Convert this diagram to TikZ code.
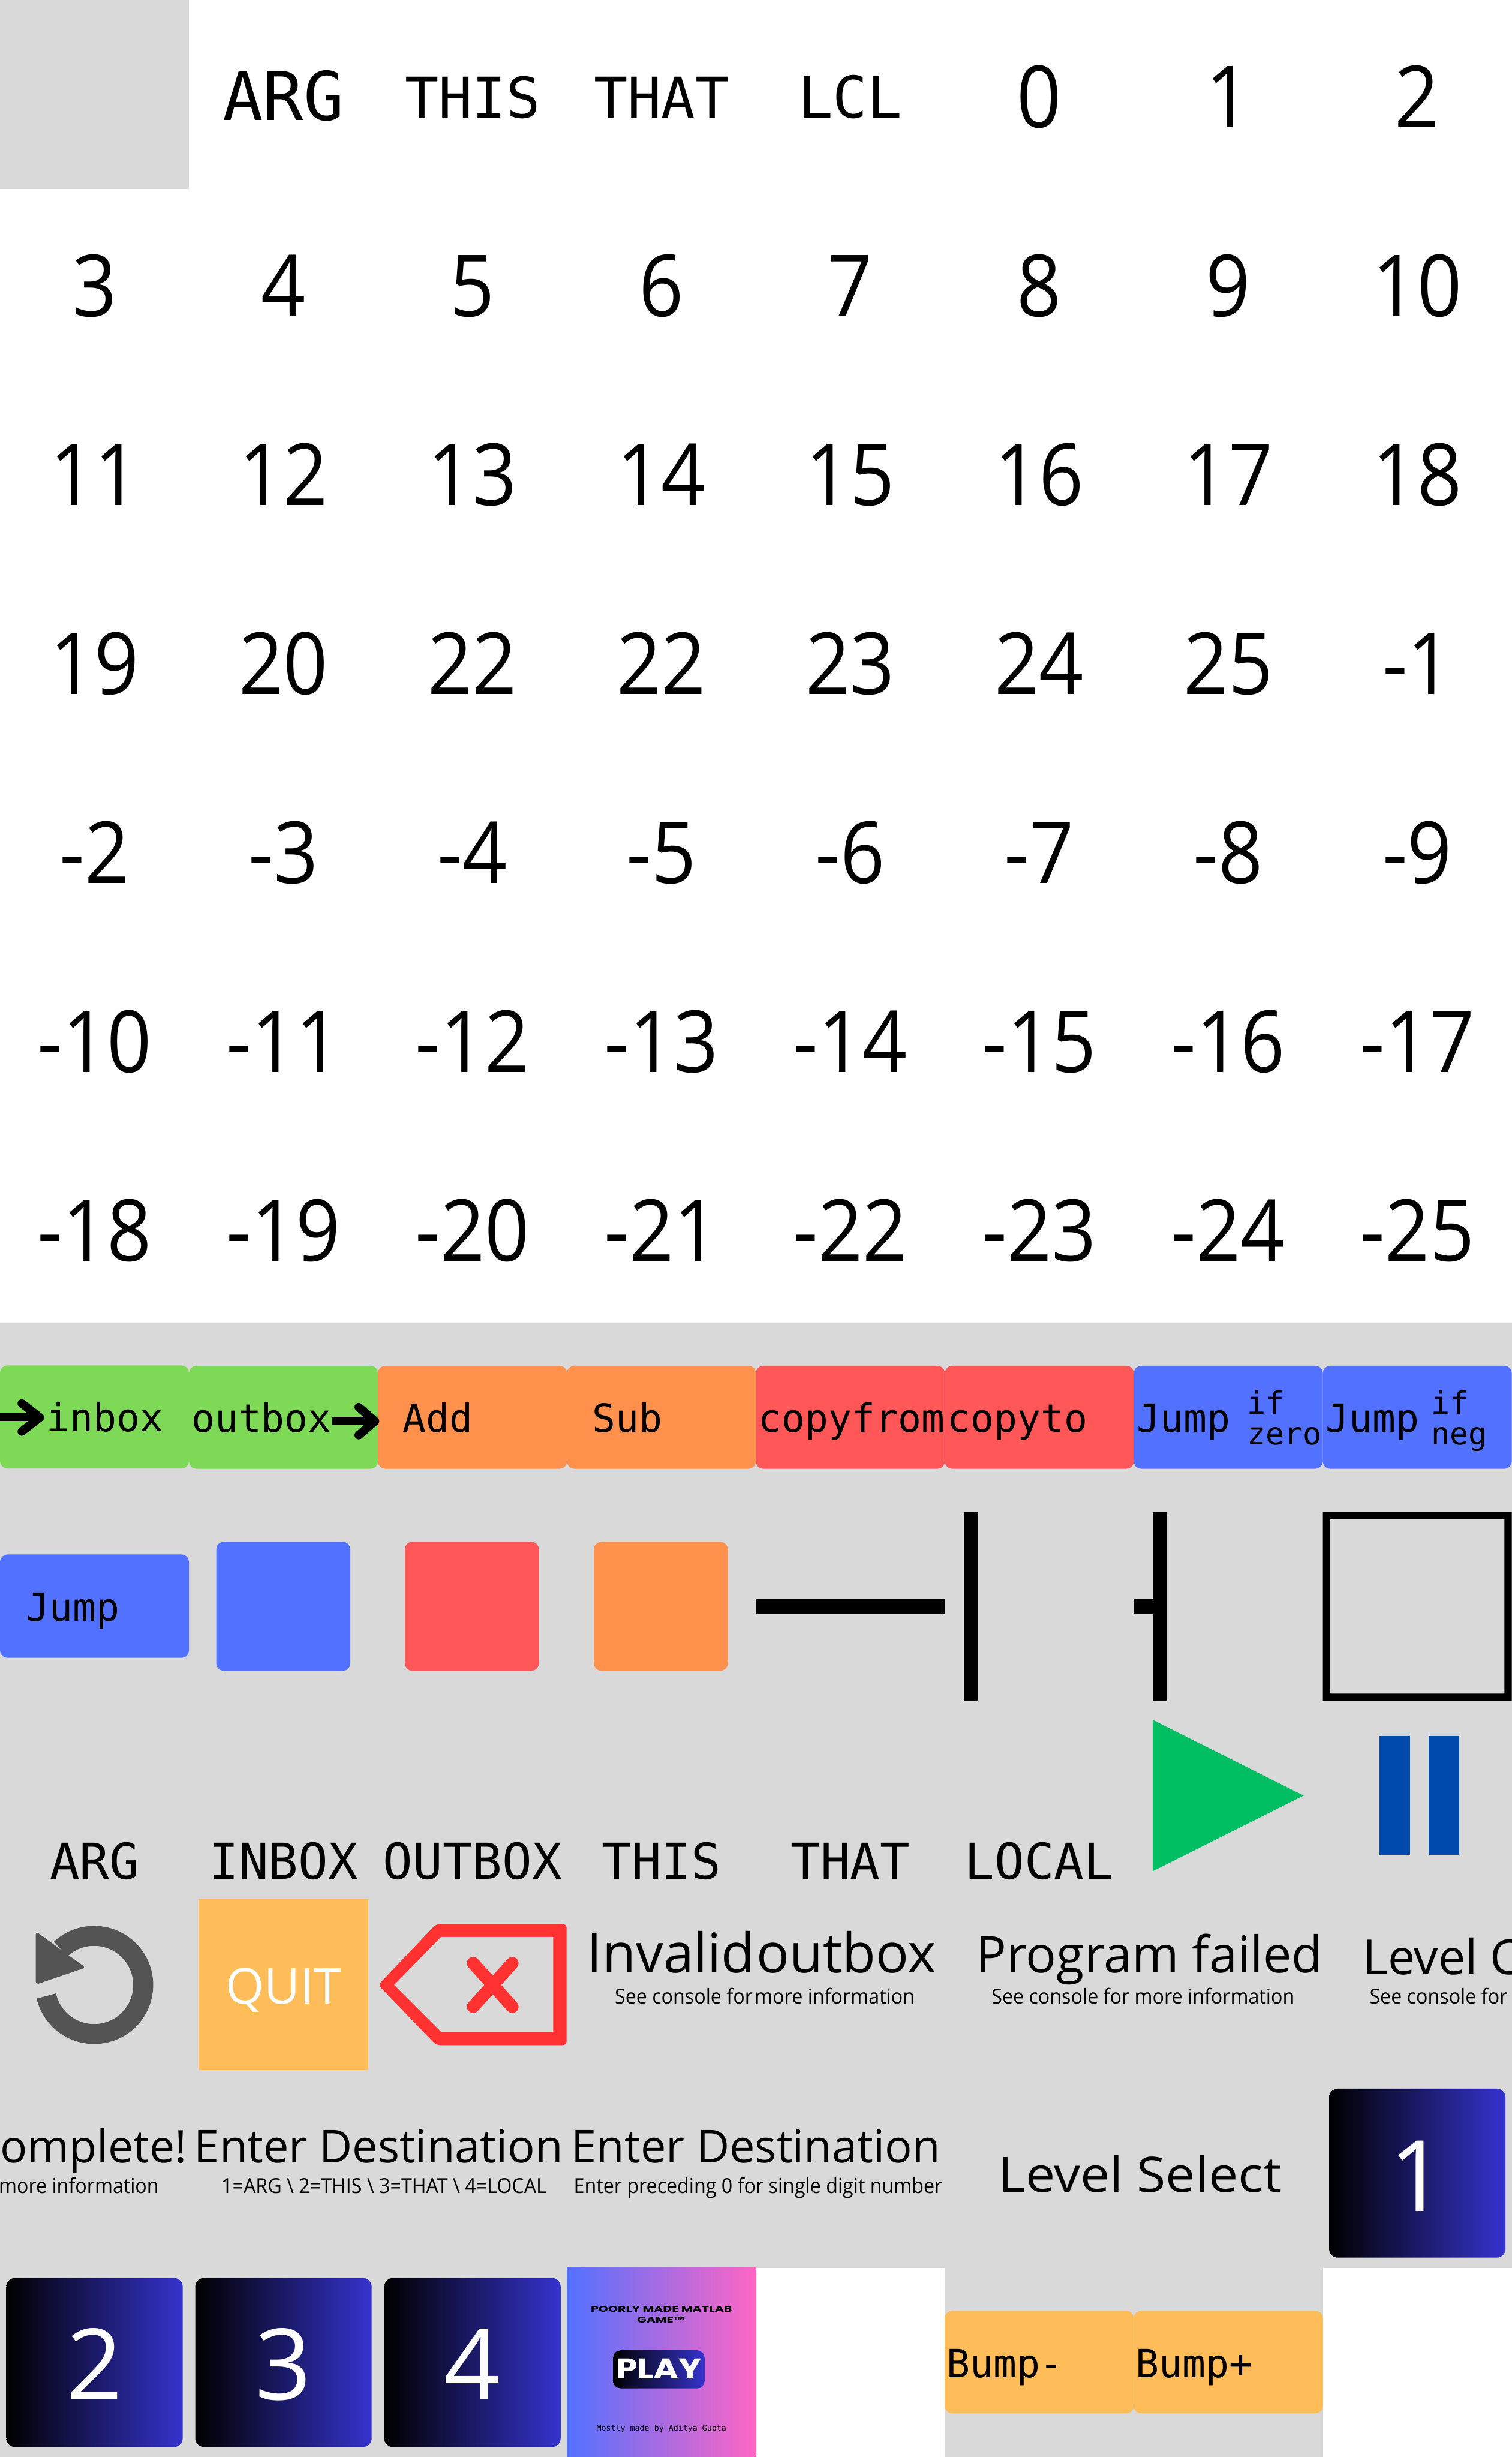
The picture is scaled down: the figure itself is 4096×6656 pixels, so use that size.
\documentclass[tikz,border=0pt]{standalone}
\usepackage{fontspec}
\setmainfont{Open Sans}
\newfontfamily\monof{DejaVu Sans Mono}
\newfontfamily\numf[FakeStretch=0.91]{Open Sans}
\newfontfamily\subf[FakeStretch=0.935]{Open Sans}
\newfontfamily\widef[FakeStretch=1.08]{Open Sans}
\newfontfamily\posterf[FakeStretch=1.45]{Poppins}
\newfontfamily\playf[FakeStretch=1.2]{Poppins}
\newcommand{\fz}[1]{\pgfmathsetmacro\fzsize{#1*0.28453}\fontsize{\fzsize pt}{\fzsize pt}\selectfont}
\def\px{0.28453pt}
\definecolor{sheet}{HTML}{D9D9D9}
\definecolor{grn}{HTML}{7ED957}
\definecolor{org}{HTML}{FF914D}
\definecolor{redb}{HTML}{FF5757}
\definecolor{blu}{HTML}{5271FF}
\definecolor{bump}{HTML}{FFBD59}
\definecolor{gradend}{HTML}{3533CD}
\definecolor{pink}{HTML}{FF66C4}
\definecolor{playg}{HTML}{00BF63}
\definecolor{pauseb}{HTML}{004AAD}
\definecolor{iconr}{HTML}{FF3131}
\definecolor{icong}{HTML}{545454}
\tikzset{
  x=0.01cm,y=-0.01cm,
  sans/.style={inner sep=0,anchor=base,font=\fz{#1}},
  lsans/.style={inner sep=0,anchor=base west,font=\fz{#1}},
  rsans/.style={inner sep=0,anchor=base east,font=\fz{#1}},
  digit/.style={inner sep=0,anchor=base,font={\numf\fz{232}}},
  subline/.style={inner sep=0,anchor=base,font={\subf\fz{56}}},
  lsubline/.style={inner sep=0,anchor=base west,font={\subf\fz{56}}},
  rsubline/.style={inner sep=0,anchor=base east,font={\subf\fz{56}}},
  mono/.style={inner sep=0,anchor=base,font={\monof\fz{#1}}},
  lmono/.style={inner sep=0,anchor=base west,font={\monof\fz{#1}}},
  block/.style={rounded corners=20*\px},
  card/.style={rounded corners=24*\px,left color=black,right color=gradend},
  arrowstroke/.style={line width=23*\px,line cap=butt},
  headstroke/.style={line width=23*\px,line cap=round,line join=round},
}
\begin{document}
\begin{tikzpicture}
\useasboundingbox (0,0) rectangle (4096,6656);
\fill[white] (0,0) rectangle (4096,6656);
\fill[sheet] (0,0) rectangle (512,512);
\fill[sheet] (0,3584) rectangle (4096,6656);
\fill[white] (2048,6144) rectangle (2560,6656);
\fill[white] (3584,6144) rectangle (4096,6656);
\shade[left color=blu,right color=pink] (1536,6144) rectangle (2048,6656);

% header labels
\node[mono=182] (hArg) at (768,326) {ARG};
\node[mono=152] (hThis) at (1280,319) {THIS};
\node[mono=152] (hThat) at (1792,319) {THAT};
\node[mono=156] (hLcl) at (2304,319) {LCL};

% number grid
\foreach \t [count=\i from 5] in {0,1,2,3,4,5,6,7,8,9,10,11,12,13,14,15,16,17,18,19,20,22,22,23,24,25,-1,-2,-3,-4,-5,-6,-7,-8,-9,-10,-11,-12,-13,-14,-15,-16,-17,-18,-19,-20,-21,-22,-23,-24,-25}{
  \pgfmathtruncatemacro\cc{mod(\i,8)}
  \pgfmathtruncatemacro\rr{\i/8}
  \node[digit] (n\i) at (256+512*\cc,345+512*\rr) {\t};
}

% instruction blocks
\fill[grn,block] (0,3699) rectangle (512,3978);
\fill[grn,block] (512,3700) rectangle (1024,3979);
\fill[org,block] (1024,3700) rectangle (1536,3979);
\fill[org,block] (1536,3700) rectangle (2048,3979);
\fill[redb,block] (2048,3700) rectangle (2560,3979);
\fill[redb,block] (2560,3700) rectangle (3072,3979);
\fill[blu,block] (3072,3700) rectangle (3584,3979);
\fill[blu,block] (3584,3700) rectangle (4096,3979);
\draw[arrowstroke] (0,3838) -- (108,3838);
\draw[headstroke] (59,3802) -- (108,3840) -- (59,3878);
\draw[arrowstroke] (901,3850) -- (1016,3850);
\draw[headstroke] (972,3812) -- (1016,3850) -- (972,3888);
\node[lmono=105] (bInbox) at (126,3878) {inbox};
\node[lmono=105] (bOutbox) at (518,3880) {outbox};
\node[lmono=105] (bAdd) at (1090,3880) {Add};
\node[lmono=105] (bSub) at (1604,3880) {Sub};
\node[lmono=105] (bFrom) at (2054,3880) {copyfrom};
\node[lmono=105] (bTo) at (2566,3880) {copyto};
\node[lmono=105] (bJz) at (3080,3880) {Jump};
\node[lmono=84] (bIfa) at (3378,3831) {if};
\node[lmono=84] (bZero) at (3378,3913) {zero};
\node[lmono=105] (bJn) at (3592,3880) {Jump};
\node[lmono=84] (bIfb) at (3877,3831) {if};
\node[lmono=84] (bNeg) at (3877,3913) {neg};

% row of swatches
\fill[blu,block] (0,4211) rectangle (512,4491);
\node[lmono=105] (bJump) at (70,4392) {Jump};
\fill[blu,block] (586,4177) rectangle (949,4526);
\fill[redb,block] (1097,4177) rectangle (1460,4526);
\fill[org,block] (1609,4177) rectangle (1972,4526);
\fill[black] (2048,4331) rectangle (2560,4372);
\fill[black] (2611,4096) rectangle (2651,4608);
\fill[black] (3123,4096) rectangle (3163,4608);
\fill[black] (3072,4331) rectangle (3123,4372);
\fill[black,even odd rule] (3584,4096) rectangle (4096,4608) (3604,4116) rectangle (4076,4588);

% play and pause
\fill[playg] (3123,4659) -- (3123,5069) -- (3532,4864) -- cycle;
\fill[pauseb] (3738,4702) rectangle (3820,5025);
\fill[pauseb] (3870,4702) rectangle (3953,5025);

% register labels
\node[mono=134] (rArg) at (256,5090) {ARG};
\node[mono=134] (rInbox) at (768,5090) {INBOX};
\node[mono=134] (rOutbox) at (1280,5090) {OUTBOX};
\node[mono=134] (rThis) at (1792,5090) {THIS};
\node[mono=134] (rThat) at (2304,5090) {THAT};
\node[mono=134] (rLocal) at (2816,5090) {LOCAL};

% reset icon
\draw[icong,line width=54*\px] (255,5377) ++(-133:133) arc[start angle=-133,end angle=167,radius=133];
\fill[icong,rounded corners=8*\px] (97,5232) -- (97,5376) -- (232,5330) -- cycle;

% quit
\fill[bump] (538,5145) rectangle (998,5607);
\node[sans=134,text=white] (quit) at (768,5428) {QUIT};

% backspace icon
\fill[iconr,rounded corners=10*\px] (1182,5212) -- (1535,5212) -- (1535,5540) -- (1182,5540) -- (1025,5377) -- cycle;
\fill[sheet] (1195,5247) -- (1499,5247) -- (1499,5504) -- (1195,5504) -- (1068,5377) -- cycle;
\draw[iconr,line width=34*\px,line cap=round] (1282,5318) -- (1388,5436);
\draw[iconr,line width=34*\px,line cap=round] (1388,5318) -- (1282,5436);

% messages
\node[sans=148] (mInv) at (1818,5344) {Invalid};
\node[sans=148] (mOut) at (2293,5344) {outbox};
\node[lsubline] (mSa) at (1665,5428) {See console for};
\node[rsubline] (mSb) at (2479,5428) {more information};
\node[sans=137] (mFail) at (3114,5344) {Program failed};
\node[subline] (mSc) at (3097,5428) {See console for more information};
\node[lsans=131] (mLev) at (3692,5348) {Level C};
\node[lsubline] (mSd) at (3710,5428) {See console for};
\node[rsans=122] (mCom) at (507,5859) {omplete!};
\node[rsubline] (mSe) at (431,5941) {more information};
\node[sans=123] (mEa) at (1026,5859) {Enter Destination};
\node[subline] (mEb) at (1040,5941) {1=ARG \textbackslash{} 2=THIS \textbackslash{} 3=THAT \textbackslash{} 4=LOCAL};
\node[sans=123] (mEc) at (2048,5859) {Enter Destination};
\node[subline] (mEd) at (2054,5941) {Enter preceding 0 for single digit number};
\node[inner sep=0,anchor=base,font={\widef\fz{132}}] (mLs) at (3089,5939) {Level Select};

% level cards
\shade[card] (3601,5658) rectangle (4079,6116);
\node[sans=267,text=white] (c1) at (3840,5990) {1};
\shade[card] (17,6171) rectangle (495,6629);
\node[sans=267,text=white] (c2) at (256,6501) {2};
\shade[card] (529,6171) rectangle (1007,6629);
\node[sans=267,text=white] (c3) at (768,6501) {3};
\shade[card] (1041,6171) rectangle (1519,6629);
\node[sans=267,text=white] (c4) at (1280,6501) {4};

% title cell
\node[inner sep=0,anchor=base,font={\posterf\bfseries\fz{23}}] (pA) at (1792,6263) {POORLY MADE MATLAB};
\node[inner sep=0,anchor=base,font={\posterf\bfseries\fz{23}}] (pB) at (1790,6292) {GAME™};
\shade[rounded corners=20*\px,left color=black,right color=gradend] (1661,6367) rectangle (1909,6470);
\node[inner sep=0,anchor=base,text=white,font={\playf\bfseries\fz{77}}] (pC) at (1785,6444) {PLAY};
\node[mono=21.6] (pD) at (1792,6585) {Mostly made by Aditya Gupta};

% bump blocks
\fill[bump,block] (2560,6260) rectangle (3072,6538);
\fill[bump,block] (3072,6260) rectangle (3584,6538);
\node[lmono=105] (bMinus) at (2564,6440) {Bump-};
\node[lmono=105] (bPlus) at (3076,6440) {Bump+};
\end{tikzpicture}
\end{document}
